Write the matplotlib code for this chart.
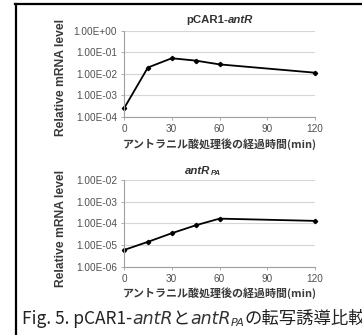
import matplotlib
matplotlib.use("Agg")
import matplotlib.pyplot as plt
from matplotlib.lines import Line2D
from matplotlib.ticker import NullLocator, FixedLocator

W, H = 362, 335

minutes = [0, 15, 30, 45, 60, 120]
pcar1_antr = [2.5e-4, 2.0e-2, 5.4e-2, 4.2e-2, 2.8e-2, 1.15e-2]
antr_pa = [5.9e-6, 1.4e-5, 3.5e-5, 8.1e-5, 1.65e-4, 1.3e-4]
x_ticks = [0, 30, 60, 90, 120]
top_yticks = [1e-4, 1e-3, 1e-2, 1e-1, 1e0]
bottom_yticks = [1e-6, 1e-5, 1e-4, 1e-3, 1e-2]
xlabel_text = "アントラニル酸処理後の経過時間(min)"
ylabel_text = "Relative mRNA level"

JP = ["Noto Sans CJK JP", "DejaVu Sans"]
LAT = ["Liberation Sans", "DejaVu Sans"]

fig = plt.figure(figsize=(W / 100, H / 100), dpi=100)
fig.patch.set_facecolor("white")
renderer = fig.canvas.get_renderer()


def px_axes(left, top, right, bottom):
    return fig.add_axes([left / W, 1 - bottom / H, (right - left) / W, (bottom - top) / H])


def text_runs(x, y, parts, center=False, va="center"):
    """Draw a line of differently styled pieces; x, y in pixels from the top-left."""
    items = []
    for s, kw in parts:
        kw = dict(kw)
        dy = kw.pop("dy", 0)
        t = fig.text(0, 0, s, va=va, ha="left", **kw)
        w = t.get_window_extent(renderer).width
        items.append((t, w, dy))
    total = sum(w for _, w, _ in items)
    cx = x - total / 2 if center else x
    for t, w, dy in items:
        t.set_position((cx / W, 1 - (y + dy) / H))
        cx += w


def style_axes(ax, yticks):
    ax.set_yscale("log")
    ax.set_xlim(0, 120)
    ax.set_ylim(yticks[0], yticks[-1])
    ax.yaxis.set_major_locator(FixedLocator(yticks))
    ax.yaxis.set_minor_locator(NullLocator())
    ax.set_yticklabels([f"{v:.2E}" for v in yticks])
    ax.set_xticks(x_ticks)
    ax.grid(axis="y", color="#d6d6d6", lw=0.8)
    ax.set_axisbelow(True)
    for side in ("top", "right"):
        ax.spines[side].set_visible(False)
    for side in ("left", "bottom"):
        ax.spines[side].set_color("#a0a0a0")
        ax.spines[side].set_linewidth(0.8)
    ax.tick_params(axis="both", direction="out", length=2.5, width=0.6,
                   color="#a0a0a0", labelsize=7.2, labelcolor="#505050", pad=2.5)
    for lbl in ax.get_xticklabels() + ax.get_yticklabels():
        lbl.set_family(LAT)


# top panel: pCAR1-antR
ax1 = px_axes(124, 31, 315, 117)
style_axes(ax1, top_yticks)
ax1.plot(minutes, pcar1_antr, color="black", lw=1.3, marker="D", ms=2.2, clip_on=False)

# bottom panel: antR_PA
ax2 = px_axes(124, 180, 315, 266.7)
style_axes(ax2, bottom_yticks)
ax2.plot(minutes, antr_pa, color="black", lw=1.3, marker="D", ms=2.2, clip_on=False)

# axis labels
for yc in (77, 228):
    fig.text(61 / W, 1 - yc / H, ylabel_text, rotation=90, ha="center", va="center",
             fontsize=8.7, fontweight="bold", color="#3a3a3a", family=LAT)
for yc in (144, 293):
    fig.text(220 / W, 1 - yc / H, xlabel_text, ha="center", va="center",
             fontsize=7.9, fontweight="bold", color="#3a3a3a", family=JP)

# panel titles
bold = dict(fontsize=8.2, fontweight="bold", color="#333333", family=LAT)
bold_it = dict(bold, style="italic")
text_runs(220, 20, [("pCAR1-", bold), ("antR", bold_it)], center=True)
text_runs(203, 171, [("antR", bold_it),
                     ("PA", dict(bold_it, fontsize=5.5, dy=2.5))], center=True)

# caption (runs past the right edge, as in the poster layout)
cap = dict(fontsize=12.5, color="#222222", family=JP)
cap_it = dict(fontsize=12.5, color="#333333", family=["DejaVu Sans"], style="italic",
              fontweight="light")
text_runs(22, 319, [("Fig. 5. pCAR1-", cap), ("antR", cap_it), ("と", cap),
                    ("antR", cap_it), ("PA", dict(cap_it, fontsize=8, dy=4)),
                    ("の転写誘導比較", cap)])

# frame lines
fig.add_artist(Line2D([15 / W, 1], [1 - 3.5 / H] * 2, transform=fig.transFigure,
                      color="black", lw=1.6))
fig.add_artist(Line2D([16 / W] * 2, [0, 1 - 3.5 / H], transform=fig.transFigure,
                      color="black", lw=1.6))

fig.savefig("out.png", dpi=100)
